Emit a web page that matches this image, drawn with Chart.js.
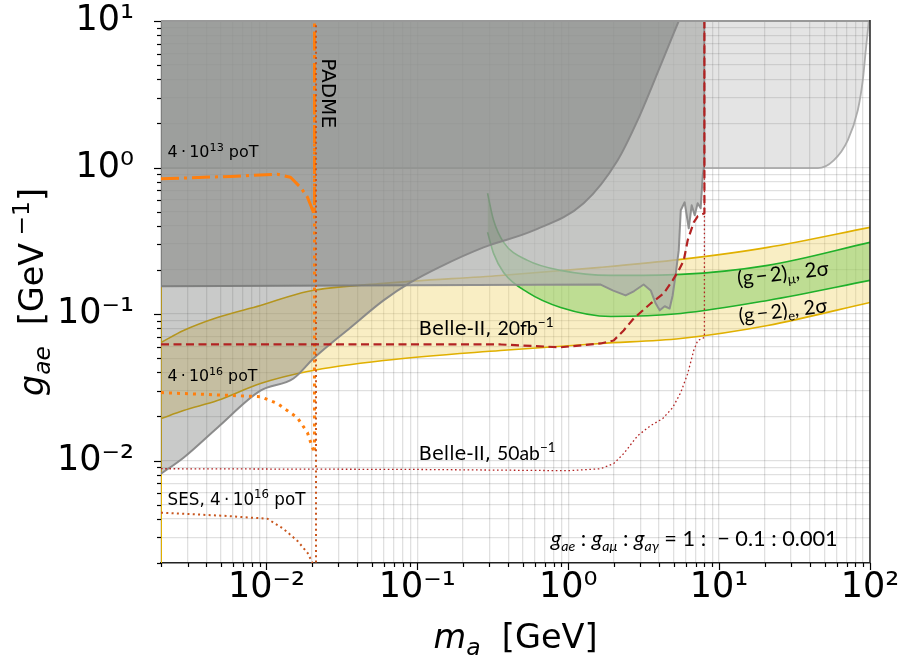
<!DOCTYPE html>
<html><head><meta charset="utf-8">
<script src="https://cdn.jsdelivr.net/npm/chart.js@4/dist/chart.umd.min.js"></script>
<style>html,body{margin:0;padding:0;background:#fff;} canvas{display:block;}</style>
</head><body>
<canvas id="c" width="903" height="661"></canvas>
<script>
// ---------- data (m_a in GeV, g_ae in GeV^-1) ----------
const region1_m = [0.002, 45.1, 57.5, 71.3, 83.0, 89.6, 93.8, 98.2];
const region1_g = [0.99, 0.99, 1.12, 1.54, 2.46, 3.95, 6.34, 10];

const region2_m = [0.002, 0.002, 1.64, 1.97, 2.40, 2.72, 3.16, 3.52, 3.80, 4.04, 4.36, 4.70, 4.92, 5.16, 5.40, 5.57, 5.91, 6.29, 6.58, 6.89, 7.21, 7.55, 7.79, 7.97, 7.97];
const region2_g = [10, 0.155, 0.159, 0.145, 0.134, 0.143, 0.159, 0.145, 0.118, 0.106, 0.113, 0.109, 0.134, 0.189, 0.272, 0.511, 0.579, 0.385, 0.552, 0.472, 0.570, 0.527, 0.886, 1.04, 10];

const region3_m = [0.002, 0.00282, 0.00473, 0.00912, 0.0151, 0.0205, 0.0361, 0.0597, 0.0901, 0.1425, 0.2748, 0.590, 1.265, 2.127, 2.886, 4.10, 5.40];
const region3_g = [0.00813, 0.01047, 0.01678, 0.0300, 0.0363, 0.0497, 0.0810, 0.1239, 0.1644, 0.211, 0.2852, 0.3726, 0.5702, 1.122, 2.105, 5.004, 10];

const gm2e_m = [0.002, 0.00282, 0.00473, 0.00912, 0.0187, 0.0597, 0.356, 1.64, 5.57, 21.0, 100];
const gm2e_upper = [0.0640, 0.0773, 0.0948, 0.1145, 0.1427, 0.1619, 0.1835, 0.2083, 0.2361, 0.2852, 0.3907];
const gm2e_lower = [0.01934, 0.02194, 0.02567, 0.03354, 0.04051, 0.04818, 0.05638, 0.0630, 0.0681, 0.0836, 0.1200];
const gm2e_edge_m = [0.002, 0.002];
const gm2e_edge_g = [0.002, 0.155];

const gm2mu_m = [0.292, 0.320, 0.373, 0.538, 0.8905, 1.911, 5.565, 21.0, 100];
const gm2mu_upper = [0.6674, 0.4362, 0.3085, 0.2325, 0.1986, 0.1835, 0.1866, 0.2149, 0.3085];
const gm2mu_lower = [0.3612, 0.2596, 0.1924, 0.1405, 0.1109, 0.0963, 0.1010, 0.1239, 0.1697];

const poT13_m = [0.002, 0.00577, 0.01183, 0.01443, 0.0168, 0.0187, 0.01988, 0.02081, 0.02081];
const poT13_g = [0.838, 0.870, 0.900, 0.858, 0.733, 0.627, 0.536, 0.472, 10];

const poT16_m = [0.002, 0.00912, 0.01183, 0.01605, 0.0187, 0.02018, 0.02081, 0.02081];
const poT16_g = [0.0291, 0.0273, 0.0245, 0.0196, 0.0155, 0.01225, 0.0113, 10];

const ses_m = [0.002, 0.00519, 0.01015, 0.01297, 0.01605, 0.0187, 0.0202, 0.0213, 0.0213];
const ses_g = [0.00441, 0.0042, 0.00401, 0.00342, 0.00283, 0.00235, 0.002, 0.002, 10];

const belle20_m = [0.002, 0.356, 0.8905, 1.64, 2.00, 2.33, 2.715, 3.52, 4.29, 4.92, 5.40, 5.83, 6.19, 6.79, 7.21, 7.99, 7.99];
const belle20_g = [0.0620, 0.0620, 0.0593, 0.0630, 0.0660, 0.0773, 0.0933, 0.1181, 0.1383, 0.1697, 0.1986, 0.2325, 0.3185, 0.4228, 0.4646, 0.4871, 10];

const belle50_m = [0.002, 0.1, 1.0, 1.64, 2.00, 2.33, 2.886, 3.52, 4.227, 4.924, 5.565, 6.192, 6.786, 7.213, 7.99, 7.99];
const belle50_g = [0.0088, 0.0087, 0.00853, 0.0088, 0.00953, 0.01115, 0.0148, 0.01732, 0.01934, 0.02299, 0.0291, 0.03926, 0.05638, 0.0660, 0.0692, 10];

const xRange = [0.002, 100];
const yRange = [0.002, 10];
const tickDecades = [-3, -2, -1, 0, 1, 2];
const tickMultipliers = [1, 2, 3, 4, 5, 6, 7, 8, 9];
const tickText = {'-2': '10\u207B\u00B2', '-1': '10\u207B\u00B9', '0': '10\u2070', '1': '10\u00B9', '2': '10\u00B2'};

// ---------- helpers ----------
function series(label, xs, ys, opts) {
  return Object.assign({
    label, data: xs.map((x, i) => ({x: x, y: ys[i]})),
    pointRadius: 0, pointHoverRadius: 0, fill: false, tension: 0,
    borderCapStyle: 'butt', borderJoinStyle: 'round'
  }, opts);
}
const smooth = {cubicInterpolationMode: 'monotone'};
function isPow10(v) { const l = Math.log10(v); return Math.abs(l - Math.round(l)) < 1e-9; }
function logTicks(range) {
  const out = [];
  tickDecades.forEach(d => tickMultipliers.forEach(m => {
    const v = Number((m * Math.pow(10, d)).toPrecision(6));
    if (v >= range[0] * 0.9999 && v <= range[1] * 1.0001) out.push({value: v, major: isPow10(v)});
  }));
  return out;
}
const tickLabel = v => isPow10(v) ? (tickText[String(Math.round(Math.log10(v)))] || '') : '';

const datasets = [
  series('Belle-II 50ab-1', belle50_m, belle50_g, {borderColor: '#b22222', borderWidth: 1.3, borderDash: [1.6, 2.6], order: 0}),
  series('Belle-II 20fb-1', belle20_m, belle20_g, {borderColor: '#b22222', borderWidth: 2.2, borderDash: [8, 4.5], order: 0}),
  series('SES 4e16 poT', ses_m, ses_g, {borderColor: '#c8561e', borderWidth: 2, borderDash: [2, 3.3], order: 0}),
  series('4e16 poT', poT16_m, poT16_g, {borderColor: '#ff7f0e', borderWidth: 3, borderDash: [3, 5], order: 0}),
  series('4e13 poT', poT13_m, poT13_g, {borderColor: '#ff7f0e', borderWidth: 3, borderDash: [18, 5, 3, 5], order: 0}),
  series('excl3', region3_m, region3_g, Object.assign({borderColor: 'rgba(135,135,135,0.95)', borderWidth: 2, fill: 'end', backgroundColor: 'rgba(92,94,90,0.33)', order: 1}, smooth)),
  series('excl2', region2_m, region2_g, {borderColor: 'rgba(140,140,140,0.95)', borderWidth: 2, fill: 'end', backgroundColor: 'rgba(177,178,176,0.74)', order: 2}),
  series('excl1', region1_m, region1_g, Object.assign({borderColor: 'rgba(165,165,165,0.9)', borderWidth: 1.8, fill: 'end', backgroundColor: 'rgba(128,128,128,0.21)', order: 3}, smooth)),
  series('(g-2)mu upper', gm2mu_m, gm2mu_upper, Object.assign({borderColor: '#1fb02a', borderWidth: 1.6, order: 4}, smooth)),
  series('(g-2)mu lower', gm2mu_m, gm2mu_lower, Object.assign({borderColor: '#1fb02a', borderWidth: 1.6, fill: '-1', backgroundColor: 'rgba(120,200,90,0.46)', order: 4}, smooth)),
  series('(g-2)e upper', gm2e_m, gm2e_upper, Object.assign({borderColor: '#e0b000', borderWidth: 1.6, order: 5}, smooth)),
  series('(g-2)e lower', gm2e_m, gm2e_lower, Object.assign({borderColor: '#e0b000', borderWidth: 1.6, fill: '-1', backgroundColor: 'rgba(240,210,100,0.38)', order: 5}, smooth)),
  series('(g-2)e edge', gm2e_edge_m, gm2e_edge_g, {borderColor: '#e0b000', borderWidth: 2, order: 5})
];

function fontOf(seg, base) {
  const sz = base * (seg.s || 1);
  return (seg.i ? 'italic ' : '') + sz.toFixed(2) + 'px ' + (seg.f || '"DejaVu Sans"');
}
function richDraw(ctx, segs, x, y, o) {
  ctx.save();
  const meas = b => segs.reduce((w, s) => { ctx.font = fontOf(s, b); return w + ctx.measureText(s.t).width; }, 0);
  let base = o.size;
  if (o.width) base = base * o.width / meas(base);
  const w = meas(base);
  ctx.translate(x, y);
  if (o.rot) ctx.rotate(o.rot);
  let cx = o.align === 'center' ? -w / 2 : (o.align === 'right' ? -w : 0);
  ctx.fillStyle = o.color || '#000';
  ctx.textBaseline = 'alphabetic';
  ctx.textAlign = 'left';
  for (const s of segs) {
    ctx.font = fontOf(s, base);
    ctx.fillText(s.t, cx, (s.dy || 0) * base);
    cx += ctx.measureText(s.t).width;
  }
  ctx.restore();
}
const SUP = {s: 0.7, dy: -0.38};
const sup = (t, f) => Object.assign({t, f}, SUP);
const labels = [
  {segs: [{t: '4\u2009·\u200910'}, sup('13'), {t: ' poT'}], at: [0.00221, 1.176], size: 17, width: 91},
  {segs: [{t: '4\u2009·\u200910'}, sup('16'), {t: ' poT'}], at: [0.00221, 0.03516], size: 17, width: 90},
  {segs: [{t: 'SES, 4\u2009·\u200910'}, sup('16'), {t: ' poT'}], at: [0.00221, 0.004995], size: 17, width: 138},
  {segs: [{t: 'Belle-II, '}, {t: '20fb', f: 'Lato'}, {t: '\u22121', s: 0.7, dy: -0.42, f: 'Lato'}], at: [0.102, 0.0714], size: 17, width: 135},
  {segs: [{t: 'Belle-II, '}, {t: '50ab', f: 'Lato'}, {t: '\u22121', s: 0.7, dy: -0.42, f: 'Lato'}], at: [0.102, 0.01014], size: 17, width: 137},
  {segs: [{t: 'PADME'}], at: [0.0235, 5.58], size: 20, width: 70, rot: Math.PI / 2},
  {segs: [{t: '(g\u2009\u2212\u20092)', f: 'Lato'}, {t: '\u03BC', s: 0.65, dy: 0.2, f: 'Lato'}, {t: ', 2\u03C3', f: 'Lato'}], at: [26.8, 0.1698], size: 19, width: 92, rot: -0.115, align: 'center'},
  {segs: [{t: '(g\u2009\u2212\u20092)', f: 'Lato'}, {t: 'e', s: 0.65, dy: 0.2, f: 'Lato'}, {t: ', 2\u03C3', f: 'Lato'}], at: [26.8, 0.0948], size: 19, width: 89, rot: -0.12, align: 'center'},
  {segs: [{t: 'g', i: 1, f: 'Lato'}, {t: 'ae', i: 1, s: 0.65, dy: 0.22, f: 'Lato'}, {t: ' : ', f: 'Lato'},
          {t: 'g', i: 1, f: 'Lato'}, {t: 'a\u03BC', i: 1, s: 0.65, dy: 0.22, f: 'Lato'}, {t: ' : ', f: 'Lato'},
          {t: 'g', i: 1, f: 'Lato'}, {t: 'a\u03B3', i: 1, s: 0.65, dy: 0.22, f: 'Lato'}, {t: ' = 1 :  \u2212 0.1 : 0.001', f: 'Lato'}],
   at: [61.1, 0.00262], size: 20, width: 287, align: 'right'}
];

const decor = {
  id: 'decor',
  afterDraw(chart) {
    const ctx = chart.ctx, a = chart.chartArea, xs = chart.scales.x, ys = chart.scales.y;
    ctx.save();
    // frame
    ctx.lineWidth = 2; ctx.strokeStyle = '#999';
    ctx.beginPath(); ctx.moveTo(a.left, a.top); ctx.lineTo(a.right, a.top); ctx.stroke();
    ctx.lineWidth = 1.5; ctx.strokeStyle = '#222';
    ctx.beginPath(); ctx.moveTo(a.right, a.top - 1); ctx.lineTo(a.right, a.bottom); ctx.stroke();
    // tick marks
    ctx.strokeStyle = '#000'; ctx.lineWidth = 1.2;
    xs.ticks.forEach(t => {
      const p = Math.round(xs.getPixelForValue(t.value)) + 0.5, L = isPow10(t.value) ? 7 : 4;
      ctx.beginPath(); ctx.moveTo(p, a.bottom); ctx.lineTo(p, a.bottom + L); ctx.stroke();
    });
    ys.ticks.forEach(t => {
      const p = Math.round(ys.getPixelForValue(t.value)) + 0.5, L = isPow10(t.value) ? 7 : 4;
      ctx.beginPath(); ctx.moveTo(a.left, p); ctx.lineTo(a.left - L, p); ctx.stroke();
    });
    ctx.restore();
    // annotations
    labels.forEach(l => {
      richDraw(ctx, l.segs, xs.getPixelForValue(l.at[0]), ys.getPixelForValue(l.at[1]),
        {size: l.size, width: l.width, rot: l.rot, align: l.align});
    });
    // axis titles
    const cxm = (a.left + a.right) / 2;
    richDraw(ctx, [{t: 'm', i: 1}, {t: 'a', i: 1, s: 0.7, dy: 0.2}, {t: '  [GeV]'}], cxm, 648, {size: 35, width: 164, align: 'center'});
    richDraw(ctx, [{t: 'g', i: 1}, {t: 'ae', i: 1, s: 0.7, dy: 0.2}, {t: '  [GeV'}, {t: ' \u22121', s: 0.7, dy: -0.42}, {t: ']'}],
      43, (a.top + a.bottom) / 2, {size: 35, width: 208, rot: -Math.PI / 2, align: 'center'});
  }
};

const gridOpts = {color: 'rgba(0,0,0,0.12)', lineWidth: 1.3, drawTicks: false};
new Chart(document.getElementById('c').getContext('2d'), {
  type: 'line',
  data: {datasets},
  options: {
    responsive: false, animation: false, devicePixelRatio: 1,
    layout: {padding: {left: 0, right: 33, top: 21, bottom: 0}},
    plugins: {legend: {display: false}, tooltip: {enabled: false}},
    scales: {
      x: {
        type: 'logarithmic', min: xRange[0], max: xRange[1],
        grid: gridOpts, border: {display: true, color: '#222', width: 1.5},
        afterBuildTicks: s => { s.ticks = logTicks(xRange); },
        ticks: {autoSkip: false, maxRotation: 0, minRotation: 0, padding: 7, color: '#000',
          font: {family: '"DejaVu Sans"', size: 35, lineHeight: 1}, callback: tickLabel},
        afterFit: s => { s.height = 98; s.paddingLeft = 0; s.paddingRight = 0; }
      },
      y: {
        type: 'logarithmic', min: yRange[0], max: yRange[1],
        grid: gridOpts, border: {display: false},
        afterBuildTicks: s => { s.ticks = logTicks(yRange); },
        ticks: {autoSkip: false, padding: 27, color: '#000',
          font: {family: '"DejaVu Sans"', size: 35, lineHeight: 1}, callback: tickLabel},
        afterFit: s => { s.width = 161; s.paddingTop = 0; s.paddingBottom = 0; }
      }
    }
  },
  plugins: [decor]
});
</script>
</body></html>
